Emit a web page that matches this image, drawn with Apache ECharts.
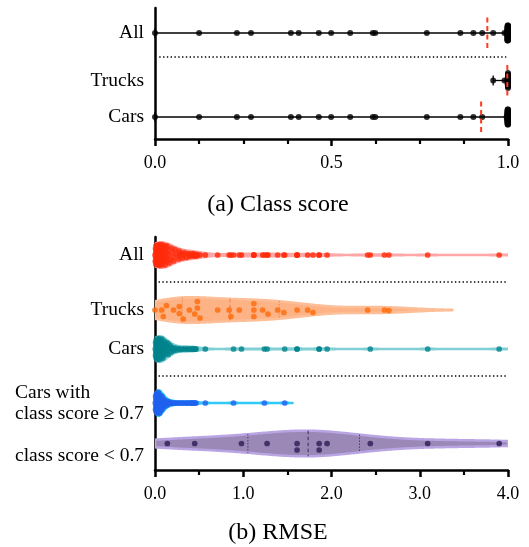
<!DOCTYPE html>
<html><head><meta charset="utf-8">
<script src="https://cdn.jsdelivr.net/npm/echarts@6/dist/echarts.min.js"></script>
<style>html,body{margin:0;padding:0;background:#fff}#c{width:529px;height:547px}</style>
</head><body><div id="c"></div>
<script>
// ---------------- DATA ----------------
const topCategories = ['All', 'Trucks', 'Cars'];
const bottomCategories = ['All', 'Trucks', 'Cars', 'Cars with\nclass score \u2265 0.7', 'class score < 0.7'];
const panelTitles = ['(a) Class score', '(b) RMSE'];

const carsClassScore = [
  0.000, 0.125, 0.232, 0.272, 0.385, 0.407, 0.464, 0.499, 0.553, 0.617, 0.624,
  0.770, 0.865, 0.902, 0.927,
  1.000, 1.000, 0.999, 1.000, 1.000, 0.998, 1.000, 1.000, 1.000, 0.999,
  1.000, 1.000, 1.000, 1.000, 0.997, 1.000, 1.000, 0.999, 1.000, 1.000,
  1.000, 1.000, 0.998, 1.000, 1.000, 1.000, 1.000, 1.000, 0.999, 1.000,
  1.000, 1.000, 1.000, 0.996, 1.000, 1.000, 1.000, 1.000, 1.000, 0.999,
  1.000, 1.000, 1.000, 1.000, 1.000, 0.998, 1.000, 1.000, 1.000, 1.000,
  1.000, 0.999, 1.000, 1.000, 1.000, 1.000, 1.000, 1.000, 0.997, 1.000,
  1.000, 1.000, 1.000, 1.000, 0.999, 1.000, 1.000, 1.000, 1.000, 1.000,
  1.000, 1.000, 0.998, 1.000, 1.000, 1.000, 1.000, 1.000, 1.000, 0.999,
  1.000, 1.000
];
const trucksClassScore = [
  0.958, 0.990,
  1.000, 1.000, 0.999, 1.000, 1.000, 1.000, 1.000, 0.998, 1.000, 1.000,
  1.000, 1.000, 1.000, 0.999, 1.000, 1.000, 1.000, 1.000, 1.000, 1.000,
  0.999, 1.000, 1.000, 1.000, 1.000, 1.000, 1.000, 1.000
];
const allClassScore = carsClassScore.concat(trucksClassScore);

const trucksRmse = [
  0.00, 0.076, 0.094, 0.13, 0.21, 0.275, 0.275, 0.32, 0.39, 0.45, 0.48, 0.48,
  0.51, 0.71, 0.84, 0.86, 0.955, 1.12, 1.12, 1.12, 1.22, 1.28, 1.39, 1.46,
  1.61, 1.73, 1.79, 2.41, 2.60, 2.65
];
const carsHighRmse = [
  0.003, 0.006, 0.007, 0.009, 0.010, 0.012, 0.013, 0.014, 0.015, 0.017,
  0.018, 0.019, 0.020, 0.021, 0.022, 0.023, 0.024, 0.025, 0.026, 0.027,
  0.028, 0.029, 0.031, 0.032, 0.033, 0.034, 0.036, 0.037, 0.038, 0.039,
  0.041, 0.042, 0.044, 0.045, 0.047, 0.049, 0.050, 0.052, 0.054, 0.056,
  0.058, 0.061, 0.063, 0.066, 0.069, 0.071, 0.074, 0.078, 0.081, 0.085,
  0.089, 0.093, 0.098, 0.103, 0.108, 0.114, 0.121, 0.128, 0.136, 0.145,
  0.152, 0.163, 0.171, 0.184, 0.196, 0.212, 0.228, 0.247, 0.268, 0.289,
  0.310, 0.330, 0.355, 0.372, 0.395, 0.410, 0.428, 0.440, 0.452, 0.465,
  0.57, 0.89, 1.24, 1.47
];
const carsLowRmse = [0.14, 0.45, 0.98, 1.27, 1.61, 1.61, 1.86, 1.86, 1.95, 2.44, 3.09, 3.90];
const carsRmse = carsHighRmse.concat(carsLowRmse);
const allRmse = carsRmse.concat(trucksRmse);

const topRows = [allClassScore, trucksClassScore, carsClassScore];
const bottomRows = [allRmse, trucksRmse, carsRmse, carsHighRmse, carsLowRmse];

// ---------------- LAYOUT / STYLE ----------------
const GRID_LEFT = 155, GRID_W = 353;
const TOP_GRID = {top: 8, height: 131};
const BOT_GRID = {top: 237, height: 233};
const topRowY = [33, 80.5, 117];
const topSepY = [57];
const botRowY = [255, 310, 349, 403, 443.5];
const botSepY = [282, 376];
const CLASS_MAX = 1, RMSE_MAX = 4;
const VIOLIN_HALF = 12.8;
const FONT = '"Liberation Serif", "Times New Roman", serif';
const violinStyle = [
  {fill: '#FF9494', stroke: '#FFA6A6', point: '#FF2A0A', line: '#FF5A5A'},
  {fill: '#FDB386', stroke: '#FDBE98', point: '#FF6A0A', line: '#EE7A3A'},
  {fill: '#70C4CB', stroke: '#80CFD5', point: '#00838C', line: '#3FA6AE'},
  {fill: '#26BFF0', stroke: '#30C9F6', point: '#1F62EE', line: '#1F8FE0'},
  {fill: '#9B88B7', stroke: '#B9A5E4', point: '#2D1B55', line: '#3A2866'}
];

// ---------------- HELPERS ----------------
function quantile(sorted, p) {
  const n = sorted.length, pos = p * (n + 1);
  if (pos <= 1) return sorted[0];
  if (pos >= n) return sorted[n - 1];
  const lo = Math.floor(pos);
  return sorted[lo - 1] + (pos - lo) * (sorted[lo] - sorted[lo - 1]);
}
function buildViolin(values) {
  const s = values.slice().sort((a, b) => a - b), n = s.length;
  const mean = s.reduce((a, b) => a + b, 0) / n;
  const sd = Math.sqrt(s.reduce((a, b) => a + (b - mean) * (b - mean), 0) / (n - 1));
  const iqr = quantile(s, 0.75) - quantile(s, 0.25);
  let bw = 0.9 * Math.min(sd, iqr / 1.34) * Math.pow(n, -0.2);
  if (!(bw > 0)) bw = 0.9 * sd * Math.pow(n, -0.2);
  const lo = Math.max(0, s[0] - 2.1 * bw), hi = Math.min(RMSE_MAX, s[n - 1] + 2.1 * bw);
  const N = 260, xs = [], ds = [];
  for (let k = 0; k <= N; k++) {
    const x = lo + (hi - lo) * k / N;
    let d = 0;
    for (const v of s) { const z = (x - v) / bw; d += Math.exp(-0.5 * z * z); }
    xs.push(x); ds.push(d);
  }
  const m = Math.max(...ds);
  const hs = ds.map(d => d / m * VIOLIN_HALF);
  const halfAt = v => {
    if (v < lo || v > hi) return 0;
    const t = (v - lo) / (hi - lo) * N, i = Math.min(N - 1, Math.floor(t));
    return hs[i] + (t - i) * (hs[i + 1] - hs[i]);
  };
  return {xs, hs, halfAt, q1: quantile(s, 0.25), med: quantile(s, 0.5), q3: quantile(s, 0.75)};
}
function swarm(values, pxPerUnit, d, capFn) {
  const order = values.map((v, i) => i).sort((a, b) => values[a] - values[b]);
  const placed = [], off = new Array(values.length).fill(0);
  for (const i of order) {
    const x = values[i] * pxPerUnit;
    const cap = Math.max(0, capFn(values[i]));
    const near = placed.filter(p => Math.abs(p.x - x) < d);
    const cands = [0];
    for (let k = 0.5; k <= cap + 1e-9; k += 0.5) cands.push(k, -k);
    let best = 0, bestScore = -1;
    for (const c of cands) {
      let minD = Infinity;
      for (const p of near) { const dd = Math.hypot(p.x - x, p.y - c); if (dd < minD) minD = dd; }
      if (minD >= d) { best = c; break; }
      if (minD > bestScore) { bestScore = minD; best = c; }
    }
    off[i] = best; placed.push({x, y: best});
  }
  return off;
}

// ---------------- BUILD ----------------
const series = [];
const topPx = GRID_W / CLASS_MAX, botPx = GRID_W / RMSE_MAX;
const sepStyle = {color: '#000', width: 1.4, type: [1.4, 2.4]};

topSepY.forEach(y => series.push({type: 'line', xAxisIndex: 0, yAxisIndex: 0, silent: true, symbol: 'none', z: 1,
  data: [[0.012, y], [0.995, y]], lineStyle: sepStyle}));
botSepY.forEach(y => series.push({type: 'line', xAxisIndex: 1, yAxisIndex: 1, silent: true, symbol: 'none', z: 1,
  data: [[0.04, y], [3.98, y]], lineStyle: sepStyle}));

// top panel rows
topRows.forEach((vals, r) => {
  const y = topRowY[r];
  const mn = Math.min(...vals), mx = Math.max(...vals);
  const mean = vals.reduce((a, b) => a + b, 0) / vals.length;
  series.push({type: 'custom', xAxisIndex: 0, yAxisIndex: 0, silent: true, z: 2, data: [[mn, y]],
    renderItem: (p, api) => {
      const a = api.coord([mn, y]), b = api.coord([mx, y]);
      const st = {stroke: '#000', lineWidth: 1.3};
      return {type: 'group', children: [
        {type: 'line', shape: {x1: a[0], y1: a[1], x2: b[0], y2: b[1]}, style: st},
        {type: 'line', shape: {x1: a[0], y1: a[1] - 5, x2: a[0], y2: a[1] + 5}, style: st},
        {type: 'line', shape: {x1: b[0], y1: b[1] - 5, x2: b[0], y2: b[1] + 5}, style: st}
      ]};
    }});
  const off = swarm(vals, topPx, 2, () => 7.5);
  series.push({type: 'scatter', xAxisIndex: 0, yAxisIndex: 0, silent: true, z: 3, symbolSize: 6,
    itemStyle: {color: '#000'}, data: vals.map((v, i) => [v, y + off[i]])});
  series.push({type: 'custom', xAxisIndex: 0, yAxisIndex: 0, silent: true, z: 4, data: [[mean, y]],
    renderItem: (p, api) => {
      const a = api.coord([mean, y - 15.5]), b = api.coord([mean, y + 15.5]);
      return {type: 'line', shape: {x1: a[0], y1: a[1], x2: b[0], y2: b[1]},
        style: {stroke: '#FF3A1E', lineWidth: 2, lineDash: [5, 3.5]}};
    }});
});

// bottom panel rows (violins)
bottomRows.forEach((vals, r) => {
  const y = botRowY[r], st = violinStyle[r];
  const V = buildViolin(vals);
  series.push({type: 'custom', xAxisIndex: 1, yAxisIndex: 1, silent: true, z: 2, clip: true, data: [[V.med, y]],
    renderItem: (p, api) => {
      const pts = [];
      for (let k = 0; k < V.xs.length; k++) pts.push(api.coord([V.xs[k], y - V.hs[k]]));
      for (let k = V.xs.length - 1; k >= 0; k--) pts.push(api.coord([V.xs[k], y + V.hs[k]]));
      const children = [{type: 'polygon', shape: {points: pts},
        style: {fill: st.fill, stroke: st.stroke, lineWidth: 2.5, lineJoin: 'round'}}];
      [[V.q1, [1.2, 1.8]], [V.med, [3.5, 2.5]], [V.q3, [1.2, 1.8]]].forEach(([q, dash]) => {
        const h = V.halfAt(q);
        const a = api.coord([q, y - h]), b = api.coord([q, y + h]);
        children.push({type: 'line', shape: {x1: a[0], y1: a[1], x2: b[0], y2: b[1]},
          style: {stroke: st.line, lineWidth: 1, lineDash: dash}});
      });
      return {type: 'group', children};
    }});
  const off = swarm(vals, botPx, 6.5, v => V.halfAt(v) - 2.2);
  series.push({type: 'scatter', xAxisIndex: 1, yAxisIndex: 1, silent: true, z: 3, symbolSize: 5.7,
    itemStyle: {color: st.point}, data: vals.map((v, i) => [v, y + off[i]])});
});

function xAx(grid, max, interval, split) {
  return {type: 'value', gridIndex: grid, min: 0, max: max, interval: interval,
    axisLine: {show: true, onZero: false, lineStyle: {color: '#000', width: 2.5}},
    axisTick: {show: true, length: 7, lineStyle: {color: '#000', width: 2.5}},
    minorTick: {show: true, splitNumber: split, length: 5, lineStyle: {color: '#000', width: 2.2}},
    splitLine: {show: false}, minorSplitLine: {show: false},
    axisLabel: {show: true, margin: 15, color: '#000', fontFamily: FONT, fontSize: 18,
      formatter: v => v.toFixed(1)}};
}
function yAx(grid, min, max) {
  return {type: 'value', gridIndex: grid, min: min, max: max, inverse: true,
    axisLine: {show: true, onZero: false, lineStyle: {color: '#000', width: 2.5}},
    axisTick: {show: false}, axisLabel: {show: false}, splitLine: {show: false}};
}
function txt(text, x, y, align, size) {
  return {type: 'text', x: x, y: y, silent: true,
    style: {text: text, fill: '#000', font: size + 'px ' + FONT, textAlign: align, align: align,
      textVerticalAlign: 'middle', verticalAlign: 'middle', lineHeight: 21.5}};
}
const graphics = [];
topCategories.forEach((c, i) => graphics.push(txt(c, 144, topRowY[i], 'right', 19.5)));
[255, 310, 349].forEach((yy, i) => graphics.push(txt(bottomCategories[i], 144, yy, 'right', 19.5)));
graphics.push(txt(bottomCategories[3], 15, 403.6, 'left', 19.5));
graphics.push(txt(bottomCategories[4], 15, 456, 'left', 19.5));
graphics.push(txt(panelTitles[0], 278, 204.5, 'center', 24));
graphics.push(txt(panelTitles[1], 278, 532.5, 'center', 24));

const chart = echarts.init(document.getElementById('c'), null, {renderer: 'canvas'});
chart.setOption({
  animation: false,
  backgroundColor: '#fff',
  grid: [
    {left: GRID_LEFT, top: TOP_GRID.top, width: GRID_W, height: TOP_GRID.height, containLabel: false, outerBoundsMode: 'none'},
    {left: GRID_LEFT, top: BOT_GRID.top, width: GRID_W, height: BOT_GRID.height, containLabel: false, outerBoundsMode: 'none'}
  ],
  xAxis: [xAx(0, CLASS_MAX, 0.5, 4), xAx(1, RMSE_MAX, 1, 2)],
  yAxis: [yAx(0, TOP_GRID.top, TOP_GRID.top + TOP_GRID.height), yAx(1, BOT_GRID.top, BOT_GRID.top + BOT_GRID.height)],
  series: series,
  graphic: graphics
});
</script></body></html>
